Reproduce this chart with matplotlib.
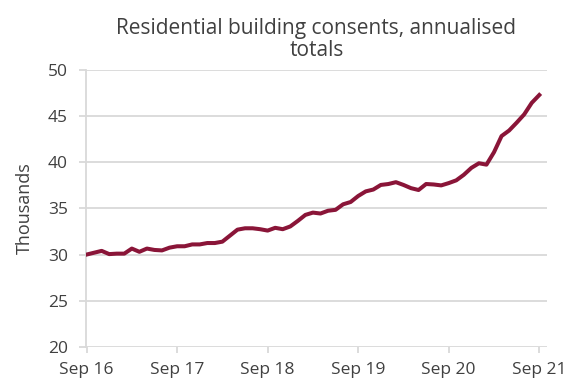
import numpy as np
import matplotlib.pyplot as plt

# annualised residential consents, thousands, monthly from Sep 2016
consents = [30.0, 30.2, 30.4, 30.05, 30.1, 30.1, 30.65, 30.3, 30.65, 30.5, 30.45, 30.75,
            30.9, 30.9, 31.1, 31.1, 31.25, 31.25, 31.4, 32.05, 32.7, 32.85, 32.85, 32.75,
            32.6, 32.9, 32.75, 33.05, 33.65, 34.3, 34.55, 34.45, 34.75, 34.85, 35.45, 35.7,
            36.35, 36.85, 37.05, 37.55, 37.65, 37.85, 37.55, 37.2, 37.0, 37.65, 37.6, 37.5,
            37.75, 38.05, 38.65, 39.4, 39.9, 39.75, 41.1, 42.85, 43.45, 44.3, 45.2, 46.45,
            47.3]
tick_labels = ['Sep 16', 'Sep 17', 'Sep 18', 'Sep 19', 'Sep 20', 'Sep 21']

plt.rcParams['font.family'] = ['Open Sans', 'DejaVu Sans']
txt = '#404040'
grid = '#d9d9d9'

fig = plt.figure(figsize=(5.72, 3.79), dpi=100)
ax = fig.add_axes([0.150, 0.085, 0.806, 0.73])

months = np.arange(len(consents))
ax.plot(months, consents, color='#8a1538', lw=2.9, solid_joinstyle='round', zorder=3)

ax.set_ylim(20, 50)
ax.set_yticks(range(20, 51, 5))
ax.set_xlim(-0.1, 61)
ax.set_xticks(range(0, 61, 12))
ax.set_xticklabels(tick_labels)

ax.grid(axis='y', color=grid, lw=1.3)
ax.set_axisbelow(True)
for s in ['top', 'right', 'bottom']:
    ax.spines[s].set_visible(False)
ax.spines['left'].set_color(grid)
ax.spines['left'].set_linewidth(1.3)
ax.tick_params(axis='y', colors=grid, labelcolor=txt, labelsize=12.5, length=5, width=1.3, pad=8)
ax.tick_params(axis='x', colors=grid, labelcolor=txt, labelsize=12.5, length=4, width=1.3, pad=7)

ax.set_ylabel('Thousands', color=txt, fontsize=13, labelpad=10)
ax.set_title('Residential building consents, annualised\ntotals', color=txt,
             fontsize=15, pad=10, linespacing=1.1)

fig.savefig('out.png', dpi=100)
